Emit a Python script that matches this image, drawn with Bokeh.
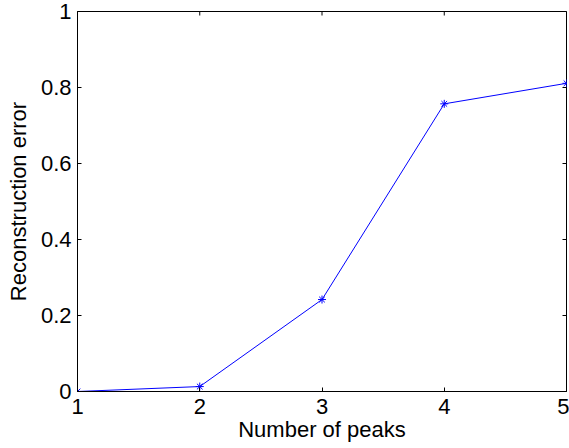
import math
from bokeh.plotting import figure
from bokeh.models import FixedTicker, Range1d
from bokeh.embed import file_html
from bokeh.resources import INLINE

peaks = [1, 2, 3, 4, 5]
errors = [0.0, 0.013, 0.242, 0.757, 0.811]
x_ticks = [1, 2, 3, 4, 5]
y_ticks = [0, 0.2, 0.4, 0.6, 0.8, 1]
y_labels = {0: "0", 0.2: "0.2", 0.4: "0.4", 0.6: "0.6", 0.8: "0.8", 1: "1"}

X_MIN, X_MAX = 1, 5
Y_MIN, Y_MAX = 0, 1

FONT = "Liberation Sans"
FS = "22px"

p = figure(width=569, height=448, output_backend="svg", toolbar_location=None,
           x_range=Range1d(X_MIN, X_MAX), y_range=Range1d(Y_MIN, Y_MAX),
           min_border_left=77, min_border_right=3, min_border_top=11, min_border_bottom=57)
p.background_fill_color = "white"
p.border_fill_color = "white"
p.outline_line_color = "black"
p.outline_line_width = 1
p.grid.visible = False

# mirrored inward ticks on top and right edges (half of each dash is clipped by the frame)
p.scatter(x_ticks, [Y_MAX] * len(x_ticks), marker="dash", size=8, angle=math.pi / 2,
          line_color="black", line_width=1)
p.scatter([X_MAX] * len(y_ticks), y_ticks, marker="dash", size=8,
          line_color="black", line_width=1)

p.line(peaks, errors, line_color="#0000FF", line_width=1)
p.scatter(peaks, errors, marker="asterisk", size=8, line_color="#0000FF", line_width=1)

for ax in (p.xaxis[0], p.yaxis[0]):
    ax.major_tick_in = 4
    ax.major_tick_out = 0
    ax.minor_tick_in = 0
    ax.minor_tick_out = 0
    ax.axis_line_color = "black"
    ax.major_label_text_font = FONT
    ax.major_label_text_font_size = FS
    ax.major_label_text_color = "black"
    ax.axis_label_text_font = FONT
    ax.axis_label_text_font_size = FS
    ax.axis_label_text_font_style = "normal"
    ax.axis_label_text_color = "black"

p.xaxis[0].ticker = FixedTicker(ticks=x_ticks)
p.yaxis[0].ticker = FixedTicker(ticks=y_ticks)
p.yaxis[0].major_label_overrides = y_labels
p.xaxis[0].axis_label = "Number of peaks"
p.yaxis[0].axis_label = "Reconstruction error"
p.xaxis[0].major_label_standoff = 7
p.yaxis[0].major_label_standoff = 6
p.xaxis[0].axis_label_standoff = 0
p.yaxis[0].axis_label_standoff = 7

open("out.html", "w").write(file_html(p, INLINE))
